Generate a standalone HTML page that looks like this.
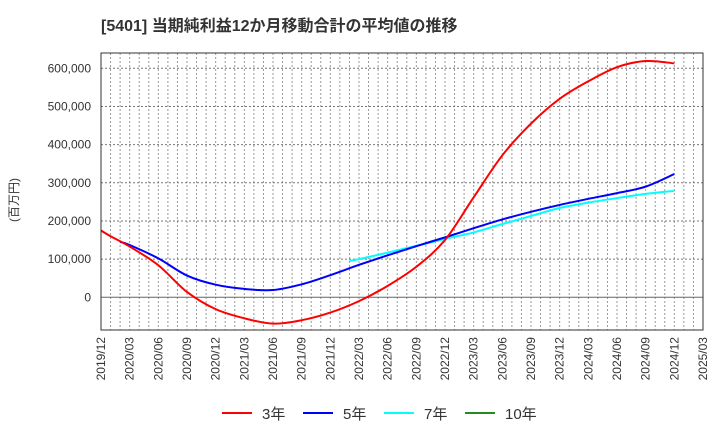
<!DOCTYPE html>
<html><head><meta charset="utf-8"><style>
body{margin:0;background:#fff;}
svg text{font-family:"Liberation Sans","Noto Sans CJK JP",sans-serif;fill:#333;}
</style></head><body>
<svg id="chart" width="720" height="440" xmlns="http://www.w3.org/2000/svg">
<text x="101" y="31" font-size="16" font-weight="bold">[5401]  当期純利益12か月移動合計の平均値の推移</text>
<text transform="translate(18,200) rotate(-90)" text-anchor="middle" font-size="12">(百万円)</text>
<g id="grid"></g>
<g id="series"></g>
<rect x="101" y="53" width="602" height="277" fill="none" stroke="#333" stroke-width="1"/>
<g id="axes"></g>
<g id="legend"></g>
</svg>
<script>
const xTickLabels=["2019/12","2020/03","2020/06","2020/09","2020/12","2021/03","2021/06","2021/09","2021/12","2022/03","2022/06","2022/09","2022/12","2023/03","2023/06","2023/09","2023/12","2024/03","2024/06","2024/09","2024/12","2025/03"];
const yTicks=[0,100000,200000,300000,400000,500000,600000];
const yTickLabels=["0","100,000","200,000","300,000","400,000","500,000","600,000"];
// month index from 2019/12
const s3Months=[0,1,3,6,9,12,15,18,21,24,27,30,33,36,39,42,45,48,51,54,57,60];
const s3Values=[175000,160000,133000,84000,14000,-31000,-55000,-69000,-60000,-40000,-10000,30000,80000,150000,262000,372000,455000,520000,566000,603000,619000,613000];
const s5Months=[2,3,6,9,12,15,18,21,24,27,30,33,36,39,42,45,48,51,54,57,60];
const s5Values=[145000,137000,102000,57000,33000,22000,19000,34000,58000,85000,110000,134000,157000,181000,204000,224000,242000,258000,273000,290000,323000];
const s7Months=[26,27,30,33,36,39,42,45,48,51,54,57,60];
const s7Values=[95000,100000,117000,135000,153000,170000,192000,213000,234000,248000,260000,271000,279000];
const legendLabels=["3年","5年","7年","10年"];
const legendColors=["#f00","#00f","#0ff","#228b22"];

const NS="http://www.w3.org/2000/svg";
const X0=101,X1=703,Y0=53,Y1=330;
const x=m=>X0+(X1-X0)*m/63;
const y=v=>297.3-v*(229/600000);
function mk(tag,attrs,parent){const e=document.createElementNS(NS,tag);for(const k in attrs)e.setAttribute(k,attrs[k]);parent.appendChild(e);return e;}
const grid=document.getElementById('grid'),axes=document.getElementById('axes'),ser=document.getElementById('series'),leg=document.getElementById('legend');
for(let m=1;m<63;m++){const l=mk('line',{x1:x(m),x2:x(m),y1:Y0,y2:Y1,stroke:'#999','stroke-dasharray':'2,2','stroke-width':1},grid);

}
yTicks.forEach((v,i)=>{const l=mk('line',{x1:X0,x2:X1,y1:y(v),y2:y(v),stroke:v===0?'#666':'#777','stroke-dasharray':v===0?'':'2,2','stroke-width':1},grid);


const t=mk('text',{x:91,y:y(v)+4,'text-anchor':'end','font-size':12},axes);t.textContent=yTickLabels[i];

});
xTickLabels.forEach((s,i)=>{const px=x(i*3);const t=mk('text',{transform:`translate(${px+4},337) rotate(-90)`,'text-anchor':'end','font-size':12},axes);t.textContent=s;

});
function path(ms,vs){const p=ms.map((m,i)=>[x(m),y(vs[i])]);let d=`M${p[0][0]},${p[0][1]}`;
for(let i=0;i<p.length-1;i++){const a=p[i-1]||p[i],b=p[i],c=p[i+1],e=p[i+2]||c;
d+=`C${b[0]+(c[0]-a[0])/6},${b[1]+(c[1]-a[1])/6} ${c[0]-(e[0]-b[0])/6},${c[1]-(e[1]-b[1])/6} ${c[0]},${c[1]}`;}return d;}
[[s7Months,s7Values,'#0ff','series-7y'],[s5Months,s5Values,'#00f','series-5y'],[s3Months,s3Values,'#f00','series-3y']].forEach(s=>{
const p=mk('path',{d:path(s[0],s[1]),fill:'none',stroke:s[2],'stroke-width':2},ser);

});
legendLabels.forEach((s,i)=>{const lx=222+i*81;const l=mk('line',{x1:lx,x2:lx+30,y1:413,y2:413,stroke:legendColors[i],'stroke-width':2},leg);


const t=mk('text',{x:lx+40,y:419,'font-size':15},leg);t.textContent=s;

});
</script>
</body></html>
